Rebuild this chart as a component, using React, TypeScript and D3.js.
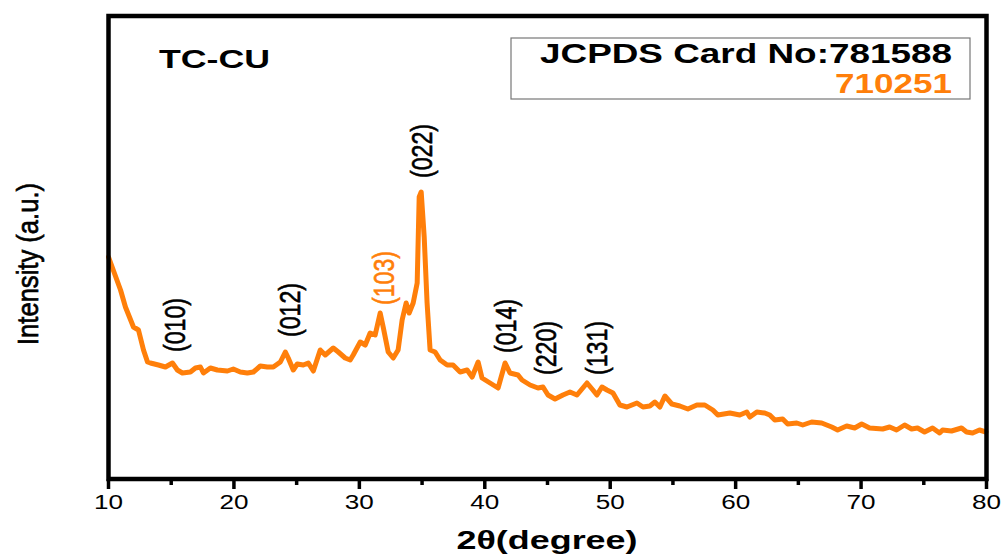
import React from "react";
import * as d3 from "d3";

// XRD pattern of TC-CU: 2θ (degree) and intensity (a.u.)
const twoTheta: number[] = [
  10.0, 10.96, 11.35, 11.99, 12.39, 12.79, 13.11, 13.34, 13.98, 14.54,
  15.1, 15.49, 15.89, 16.53, 16.93, 17.33, 17.57, 18.12, 18.68, 19.48,
  19.95, 20.51, 21.07, 21.55, 22.1, 22.66, 23.14, 23.7, 24.1, 24.33,
  24.73, 25.05, 25.53, 25.93, 26.33, 26.88, 27.28, 27.92, 28.32, 28.87,
  29.27, 29.51, 30.07, 30.47, 30.86, 31.26, 31.66, 31.9, 32.3, 32.7,
  33.09, 33.41, 33.73, 33.97, 34.29, 34.61, 34.77, 34.93, 35.17, 35.4,
  35.64, 36.04, 36.44, 37.0, 37.47, 38.03, 38.59, 38.99, 39.47, 39.78,
  40.42, 41.06, 41.62, 42.01, 42.65, 42.97, 43.61, 44.24, 44.64, 45.04,
  45.6, 46.23, 46.79, 47.35, 48.15, 48.62, 48.94, 49.34, 49.74, 50.22,
  50.77, 51.33, 52.13, 52.61, 53.16, 53.56, 53.96, 54.36, 54.91, 55.55,
  56.19, 56.91, 57.54, 58.18, 58.58, 59.54, 60.33, 60.89, 61.13, 61.69,
  62.32, 62.72, 63.12, 63.75, 64.15, 64.87, 65.35, 66.06, 66.86, 67.66,
  68.13, 68.85, 69.49, 70.05, 70.68, 71.72, 72.28, 72.83, 73.47, 74.03,
  74.5, 75.06, 75.7, 76.26, 76.5, 77.21, 78.01, 78.41, 78.89, 79.44,
  79.95,
];

const intensity: number[] = [
  221, 188, 171, 151, 148, 128, 116, 115, 113, 111,
  115, 108, 105, 106, 110, 111, 105, 110, 108, 107,
  109, 106, 105, 106, 112, 111, 111, 116, 126, 120,
  108, 114, 113, 115, 107, 128, 123, 130, 126, 120,
  118, 123, 136, 133, 145, 143, 165, 151, 126, 120,
  128, 158, 175, 165, 175, 195, 281, 286, 241, 175,
  128, 126, 118, 113, 113, 106, 108, 101, 116, 100,
  95, 90, 115, 105, 103, 98, 93, 90, 91, 83,
  79, 83, 86, 83, 95, 88, 83, 91, 88, 85,
  73, 71, 75, 71, 72, 76, 71, 82, 74, 72,
  69, 73, 73, 68, 63, 65, 63, 66, 61, 66,
  65, 63, 58, 59, 54, 55, 53, 56, 55, 51,
  48, 52, 50, 54, 50, 49, 51, 48, 53, 49,
  50, 46, 50, 45, 48, 47, 50, 46, 45, 48,
  46,
];

// Miller index labels: 2θ they sit at and the intensity of their lower end
const peakLabels: string[] = ["(010)", "(012)", "(103)", "(022)", "(014)", "(220)", "(131)"];
const peakLabelAngles: number[] = [15.2, 24.4, 31.9, 34.9, 41.6, 44.8, 48.9];
const peakLabelLevels: number[] = [126, 141, 173, 300, 125, 103, 103];
const peakLabelCard: number[] = [0, 0, 1, 0, 0, 0, 0];

const majorTicks: number[] = [10, 20, 30, 40, 50, 60, 70, 80];
const minorTicks: number[] = [15, 25, 35, 45, 55, 65, 75];

const cardNumbers: string[] = ["JCPDS Card No:781588", "710251"];
const sampleName = "TC-CU";

const ORANGE = "#ff7f0a";
const FONT = "'Liberation Sans', Arial, Helvetica, sans-serif";

export default function App() {
  const left = 108.5;
  const right = 986.5;
  const top = 16;
  const bottom = 479;

  const x = d3.scaleLinear().domain([10, 80]).range([left, right]);
  const y = d3.scaleLinear().domain([0, 463]).range([478, 15]);

  const points: [number, number][] = twoTheta.map((t, i) => [t, intensity[i]]);
  const path = d3
    .line<[number, number]>()
    .x((d) => x(d[0]))
    .y((d) => y(d[1]))
    .curve(d3.curveLinear)(points);

  return (
    <svg
      width={1003}
      height={554}
      style={{ position: "absolute", left: 0, top: 0, background: "#fff" }}
      fontFamily={FONT}
    >
      <rect x={0} y={0} width={1003} height={554} fill="#fff" />

      {/* pattern */}
      <path
        d={path || ""}
        fill="none"
        stroke={ORANGE}
        strokeWidth={5}
        strokeLinejoin="round"
        strokeLinecap="round"
      />

      {/* frame */}
      <rect
        x={left}
        y={top}
        width={right - left}
        height={bottom - top}
        fill="none"
        stroke="#000"
        strokeWidth={4.5}
      />

      {/* bottom axis ticks */}
      {majorTicks.map((t) => (
        <g key={"M" + t}>
          <line x1={x(t)} x2={x(t)} y1={bottom} y2={bottom + 10} stroke="#000" strokeWidth={3.5} />
          <text
            x={x(t)}
            y={509}
            fontSize={20}
            textAnchor="middle"
            textLength={29}
            lengthAdjust="spacingAndGlyphs"
            fill="#000"
          >
            {t}
          </text>
        </g>
      ))}
      {minorTicks.map((t) => (
        <line key={"m" + t} x1={x(t)} x2={x(t)} y1={bottom} y2={bottom + 6} stroke="#000" strokeWidth={3.5} />
      ))}

      {/* axis titles */}
      <text
        x={547}
        y={549}
        fontSize={25}
        fontWeight="bold"
        textAnchor="middle"
        textLength={181}
        lengthAdjust="spacingAndGlyphs"
        fill="#000"
      >
        2θ(degree)
      </text>
      <text
        transform="translate(38,264) rotate(-90)"
        fontSize={30}
        textAnchor="middle"
        textLength={162}
        lengthAdjust="spacingAndGlyphs"
        fill="#000"
        stroke="#000"
        strokeWidth={0.7}
      >
        Intensity (a.u.)
      </text>

      {/* sample name */}
      <text
        x={159}
        y={68}
        fontSize={25}
        fontWeight="bold"
        textLength={111}
        lengthAdjust="spacingAndGlyphs"
        fill="#000"
      >
        {sampleName}
      </text>

      {/* reference card box */}
      <rect x={511} y={38} width={459} height={61} fill="#fff" stroke="#777" strokeWidth={1.2} />
      <text
        x={952}
        y={63}
        fontSize={27}
        fontWeight="bold"
        textAnchor="end"
        textLength={412}
        lengthAdjust="spacingAndGlyphs"
        fill="#000"
      >
        {cardNumbers[0]}
      </text>
      <text
        x={952}
        y={93}
        fontSize={27}
        fontWeight="bold"
        textAnchor="end"
        textLength={117}
        lengthAdjust="spacingAndGlyphs"
        fill={ORANGE}
      >
        {cardNumbers[1]}
      </text>

      {/* Miller indices */}
      {peakLabels.map((lab, i) => {
        const px = x(peakLabelAngles[i]) + 11;
        const py = y(peakLabelLevels[i]);
        const col = peakLabelCard[i] ? ORANGE : "#000";
        return (
          <text
            key={lab}
            transform={`translate(${px},${py}) rotate(-90)`}
            fontSize={30}
            textAnchor="start"
            textLength={54}
            lengthAdjust="spacingAndGlyphs"
            fill={col}
            stroke={col}
            strokeWidth={0.6}
          >
            {lab}
          </text>
        );
      })}
    </svg>
  );
}
